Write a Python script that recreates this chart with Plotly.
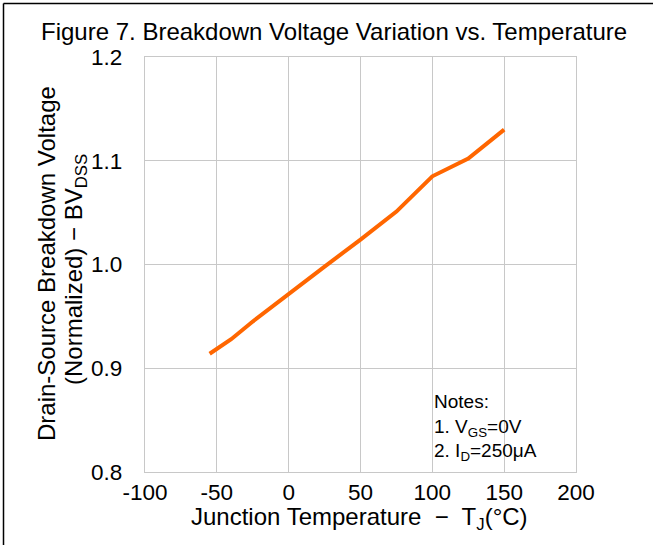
import plotly.graph_objects as go

temps = [-55, -40, -25, 0, 25, 50, 75, 100, 125, 150]
bvdss = [0.914, 0.928, 0.945, 0.972, 0.998, 1.024, 1.051, 1.085, 1.102, 1.130]
x_ticks = [-100, -50, 0, 50, 100, 150, 200]
y_ticks = [0.8, 0.9, 1.0, 1.1, 1.2]

FONT = "Liberation Sans, Arial, sans-serif"
GRID = "#c8c8c8"

fig = go.Figure()
fig.add_trace(go.Scatter(x=temps, y=bvdss, mode="lines",
                         line=dict(color="#ff6600", width=4), showlegend=False,
                         hoverinfo="skip"))

fig.update_layout(
    width=654, height=545, autosize=False,
    margin=dict(l=145, r=78, t=57, b=73),
    paper_bgcolor="white", plot_bgcolor="white",
    font=dict(family=FONT, color="black", size=23),
    xaxis=dict(range=[-100, 200], tickvals=x_ticks, ticktext=[str(v) for v in x_ticks],
               showgrid=True, gridcolor=GRID, gridwidth=1.3, zeroline=False,
               showline=True, linecolor=GRID, linewidth=1.3, mirror=True,
               ticks="", ticklabelstandoff=0, tickfont=dict(size=22.5, family=FONT)),
    yaxis=dict(range=[0.8, 1.2], tickvals=y_ticks, ticktext=[f"{v:.1f}" for v in y_ticks],
               showgrid=True, gridcolor=GRID, gridwidth=1.3, zeroline=False,
               showline=True, linecolor=GRID, linewidth=1.3, mirror=True,
               ticks="", ticklabelstandoff=17, tickfont=dict(size=22.5, family=FONT)),
)

ann = [
    dict(text="Figure 7. Breakdown Voltage Variation vs. Temperature",
         x=(334 - 145) / 431, y=(472 - 31) / 415, font=dict(size=24)),
    dict(text="Drain-Source Breakdown Voltage", textangle=-90,
         x=(46 - 145) / 431, y=(472 - 264) / 415, font=dict(size=24)),
    dict(text="(Normalized) \u2212 BV<sub>DSS</sub>", textangle=-90,
         x=(75 - 145) / 431, y=(472 - 270) / 415, font=dict(size=24)),
    dict(text="Junction Temperature  \u2212  T<sub>J</sub>(°C)",
         x=(359 - 145) / 431, y=(472 - 518) / 415, font=dict(size=24)),
    dict(text="Notes:<br>1. V<sub>GS</sub>=0V<br>2. I<sub>D</sub>=250μA", align="left",
         xanchor="left", yanchor="top",
         x=(432 - 145) / 431, y=(472 - 389) / 415, font=dict(size=19)),
]
for a in ann:
    base = dict(xref="paper", yref="paper", showarrow=False)
    base.setdefault("xanchor", "center")
    base.setdefault("yanchor", "middle")
    base.update(a)
    fig.add_annotation(**base)

# outer frame (left and top edges)
fx0 = (3.5 - 145) / 431
fx1 = (653 - 145) / 431
fy_top = (472 - 3.5) / 415
fy_bot = (472 - 545) / 415
fig.add_shape(type="line", xref="paper", yref="paper", x0=fx0, x1=fx1, y0=fy_top, y1=fy_top,
              line=dict(color="black", width=1.5))
fig.add_shape(type="line", xref="paper", yref="paper", x0=fx0, x1=fx0, y0=fy_top, y1=fy_bot,
              line=dict(color="black", width=1.5))

fig.write_html("out.html")
